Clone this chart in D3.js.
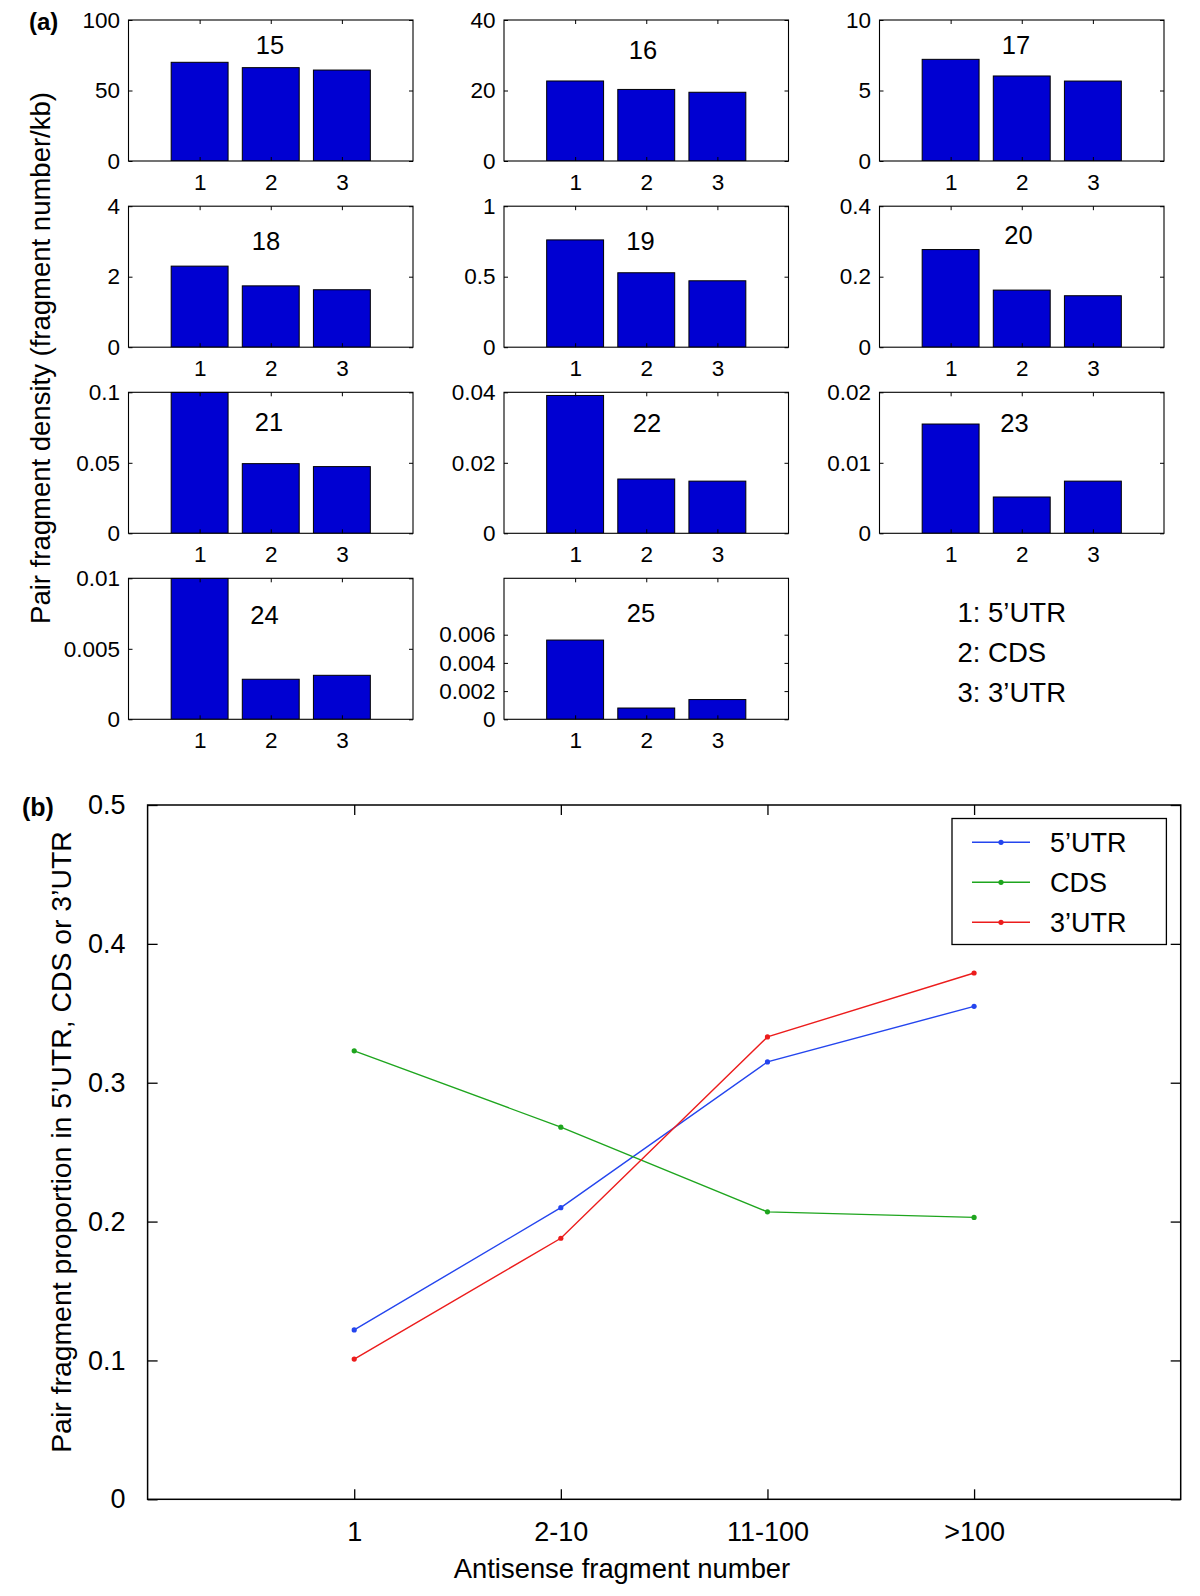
<!DOCTYPE html>
<html>
<head>
<meta charset="utf-8">
<script src="https://cdn.jsdelivr.net/npm/d3@7"></script>
<style>
  html, body { margin: 0; padding: 0; background: #fff; }
  svg { display: block; font-family: "Liberation Sans", Arial, Helvetica, sans-serif; }
</style>
</head>
<body>
<svg id="chart" width="1200" height="1596"></svg>
<script>
// ---------------- DATA ----------------
// Panel (a): pair fragment density by region, one small bar panel per id
const panelIds   = [15, 16, 17, 18, 19, 20, 21, 22, 23, 24, 25];
const barCategories = [1, 2, 3];
const density5UTR = [70.0, 22.7, 7.21, 2.30, 0.761, 0.277, 0.100, 0.0391, 0.0155, 0.0100, 0.00562];
const densityCDS  = [66.2, 20.3, 6.03, 1.74, 0.528, 0.162, 0.0494, 0.0154, 0.00515, 0.00284, 0.0008];
const density3UTR = [64.5, 19.5, 5.67, 1.63, 0.471, 0.146, 0.0473, 0.0148, 0.0074, 0.00312, 0.0014];
const panelYMax   = [100, 40, 10, 4, 1, 0.4, 0.1, 0.04, 0.02, 0.01, 0.01];
const panelYTicks = [
  [0, 50, 100], [0, 20, 40], [0, 5, 10],
  [0, 2, 4], [0, 0.5, 1], [0, 0.2, 0.4],
  [0, 0.05, 0.1], [0, 0.02, 0.04], [0, 0.01, 0.02],
  [0, 0.005, 0.01], [0, 0.002, 0.004, 0.006]
];
const regionKey = ["1: 5\u2019UTR", "2: CDS", "3: 3\u2019UTR"];

// Panel (b): proportion in each region vs antisense fragment number
const lineCategories = ["1", "2-10", "11-100", ">100"];
const prop5UTR = [0.122, 0.210, 0.315, 0.355];
const propCDS  = [0.323, 0.268, 0.207, 0.203];
const prop3UTR = [0.101, 0.188, 0.333, 0.379];
const seriesNames = ["5\u2019UTR", "CDS", "3\u2019UTR"];
const lineYTicks = [0, 0.1, 0.2, 0.3, 0.4, 0.5];

// ---------------- LAYOUT / STYLE ----------------
const colLeft = [128.5, 504, 879.5];
const rowTop  = [20, 206.2, 392.3, 578.3];
const panelW = 284.5, panelH = 141;
// per-panel number label offsets (px from panel left / top)
const labelOffset = [
  [141.5, 33.5], [139, 38.5], [136.5, 33.5],
  [137.5, 44], [136.5, 43.3], [139, 37.3],
  [140.5, 38.4], [143, 40], [135, 40],
  [136, 45.7], [137, 44]
];
const barFill = "#0000d2";
const lineColors = ["#2445ee", "#1ea51e", "#ec1c1c"];
const fontA = 22.5, fontAnum = 25.5, fontAkey = 27.5;
const fontB = 27;

const svg = d3.select("#chart");

function styleAxis(g, size) {
  g.select(".domain").remove();
  g.selectAll("line").attr("stroke", "#000").attr("stroke-width", 1);
  g.selectAll("text").attr("font-size", size).attr("fill", "#000")
    .attr("font-family", "\"Liberation Sans\", Arial, Helvetica, sans-serif");
  g.attr("font-size", null).attr("font-family", null);
}

// ---------------- PANEL (a) ----------------
const defs = svg.append("defs");
panelIds.forEach((id, i) => {
  const col = i % 3, row = Math.floor(i / 3);
  const L = colLeft[col], T = rowTop[row];
  const x = d3.scaleLinear().domain([0, 4]).range([L, L + panelW]);
  const y = d3.scaleLinear().domain([0, panelYMax[i]]).range([T + panelH, T]);
  const g = svg.append("g");

  defs.append("clipPath").attr("id", "clip" + id)
    .append("rect").attr("x", L).attr("y", T - 0.5).attr("width", panelW).attr("height", panelH + 0.5);

  const vals = [density5UTR[i], densityCDS[i], density3UTR[i]];
  g.append("g").attr("clip-path", `url(#clip${id})`)
    .selectAll("rect").data(barCategories).join("rect")
    .attr("x", d => x(d - 0.4))
    .attr("width", d => x(d + 0.4) - x(d - 0.4))
    .attr("y", (d, k) => y(Math.min(vals[k], panelYMax[i] * 1.01)))
    .attr("height", (d, k) => y(0) - y(Math.min(vals[k], panelYMax[i] * 1.01)))
    .attr("fill", barFill)
    .attr("stroke", "#000")
    .attr("stroke-width", 1);

  // axes (inward ticks on all sides, MATLAB box style)
  const fmt = d => String(d);
  const gl = g.append("g").attr("transform", `translate(${L},0)`)
    .call(d3.axisLeft(y).tickValues(panelYTicks[i]).tickSize(-4).tickPadding(8.5).tickFormat(fmt));
  styleAxis(gl, fontA);
  const gr = g.append("g").attr("transform", `translate(${L + panelW},0)`)
    .call(d3.axisRight(y).tickValues(panelYTicks[i]).tickSize(-4).tickFormat(""));
  styleAxis(gr, fontA);
  const gb = g.append("g").attr("transform", `translate(0,${T + panelH})`)
    .call(d3.axisBottom(x).tickValues(barCategories).tickSize(-4).tickPadding(13.2).tickFormat(fmt));
  styleAxis(gb, fontA);
  const gt = g.append("g").attr("transform", `translate(0,${T})`)
    .call(d3.axisTop(x).tickValues(barCategories).tickSize(-4).tickFormat(""));
  styleAxis(gt, fontA);

  g.append("rect").attr("x", L).attr("y", T).attr("width", panelW).attr("height", panelH)
    .attr("fill", "none").attr("stroke", "#000").attr("stroke-width", 1.1);

  g.append("text")
    .attr("x", L + labelOffset[i][0]).attr("y", T + labelOffset[i][1])
    .attr("text-anchor", "middle").attr("font-size", fontAnum).attr("fill", "#000")
    .text(id);
});

// region key text
svg.append("g").selectAll("text").data(regionKey).join("text")
  .attr("x", 957.5)
  .attr("y", (d, k) => 622.3 + k * 40)
  .attr("font-size", fontAkey).attr("fill", "#000")
  .text(d => d);

// (a) label + y-axis title
svg.append("text").attr("x", 29).attr("y", 30).attr("font-size", 24).attr("font-weight", "bold").text("(a)");
svg.append("text")
  .attr("transform", "translate(50,358) rotate(-90)")
  .attr("text-anchor", "middle").attr("font-size", 27.5).attr("fill", "#000")
  .text("Pair fragment density (fragment number/kb)");

// ---------------- PANEL (b) ----------------
const bL = 147.6, bR = 1180.7, bT = 805, bB = 1499.3;
const xb = d3.scaleLinear().domain([0, 5]).range([bL, bR]);
const yb = d3.scaleLinear().domain([0, 0.5]).range([bB, bT]);
const gB = svg.append("g");
const catIdx = lineCategories.map((c, k) => k + 1);

const fmtB = d => (d === 0 ? "0" : d3.format(".1f")(d));
const bl = gB.append("g").attr("transform", `translate(${bL},0)`)
  .call(d3.axisLeft(yb).tickValues(lineYTicks).tickSize(-10).tickPadding(22).tickFormat(fmtB));
styleAxis(bl, fontB);
const br = gB.append("g").attr("transform", `translate(${bR},0)`)
  .call(d3.axisRight(yb).tickValues(lineYTicks).tickSize(-10).tickFormat(""));
styleAxis(br, fontB);
const bb = gB.append("g").attr("transform", `translate(0,${bB})`)
  .call(d3.axisBottom(xb).tickValues(catIdx).tickSize(-10).tickPadding(23).tickFormat(d => lineCategories[d - 1]));
styleAxis(bb, fontB);
const bt = gB.append("g").attr("transform", `translate(0,${bT})`)
  .call(d3.axisTop(xb).tickValues(catIdx).tickSize(-10).tickFormat(""));
styleAxis(bt, fontB);
gB.selectAll("line").attr("stroke-width", 1.3);

gB.append("rect").attr("x", bL).attr("y", bT).attr("width", bR - bL).attr("height", bB - bT)
  .attr("fill", "none").attr("stroke", "#000").attr("stroke-width", 1.5);

const seriesVals = [prop5UTR, propCDS, prop3UTR];
const lineGen = d3.line().x((d, k) => xb(k + 1)).y(d => yb(d));
seriesVals.forEach((vals, s) => {
  gB.append("path").datum(vals).attr("d", lineGen)
    .attr("fill", "none").attr("stroke", lineColors[s]).attr("stroke-width", 1.4);
  gB.append("g").selectAll("circle").data(vals).join("circle")
    .attr("cx", (d, k) => xb(k + 1)).attr("cy", d => yb(d)).attr("r", 2.6)
    .attr("fill", lineColors[s]);
});

// legend
const lg = gB.append("g");
lg.append("rect").attr("x", 952).attr("y", 818.5).attr("width", 214.4).attr("height", 126)
  .attr("fill", "#fff").attr("stroke", "#000").attr("stroke-width", 1.3);
seriesNames.forEach((name, s) => {
  const yy = 842.3 + s * 40;
  lg.append("line").attr("x1", 972).attr("x2", 1030).attr("y1", yy).attr("y2", yy)
    .attr("stroke", lineColors[s]).attr("stroke-width", 1.4);
  lg.append("circle").attr("cx", 1001).attr("cy", yy).attr("r", 2.6).attr("fill", lineColors[s]);
  lg.append("text").attr("x", 1050).attr("y", yy).attr("dy", "0.36em")
    .attr("font-size", fontB).attr("fill", "#000").text(name);
});

// (b) label + titles
svg.append("text").attr("x", 22).attr("y", 816).attr("font-size", 25).attr("font-weight", "bold").text("(b)");
svg.append("text")
  .attr("transform", "translate(71,1142) rotate(-90)")
  .attr("text-anchor", "middle").attr("font-size", 28.4).attr("fill", "#000")
  .text("Pair fragment proportion in 5\u2019UTR, CDS or 3\u2019UTR");
svg.append("text").attr("x", 622).attr("y", 1578)
  .attr("text-anchor", "middle").attr("font-size", 27.4).attr("fill", "#000")
  .text("Antisense fragment number");
</script>
</body>
</html>
